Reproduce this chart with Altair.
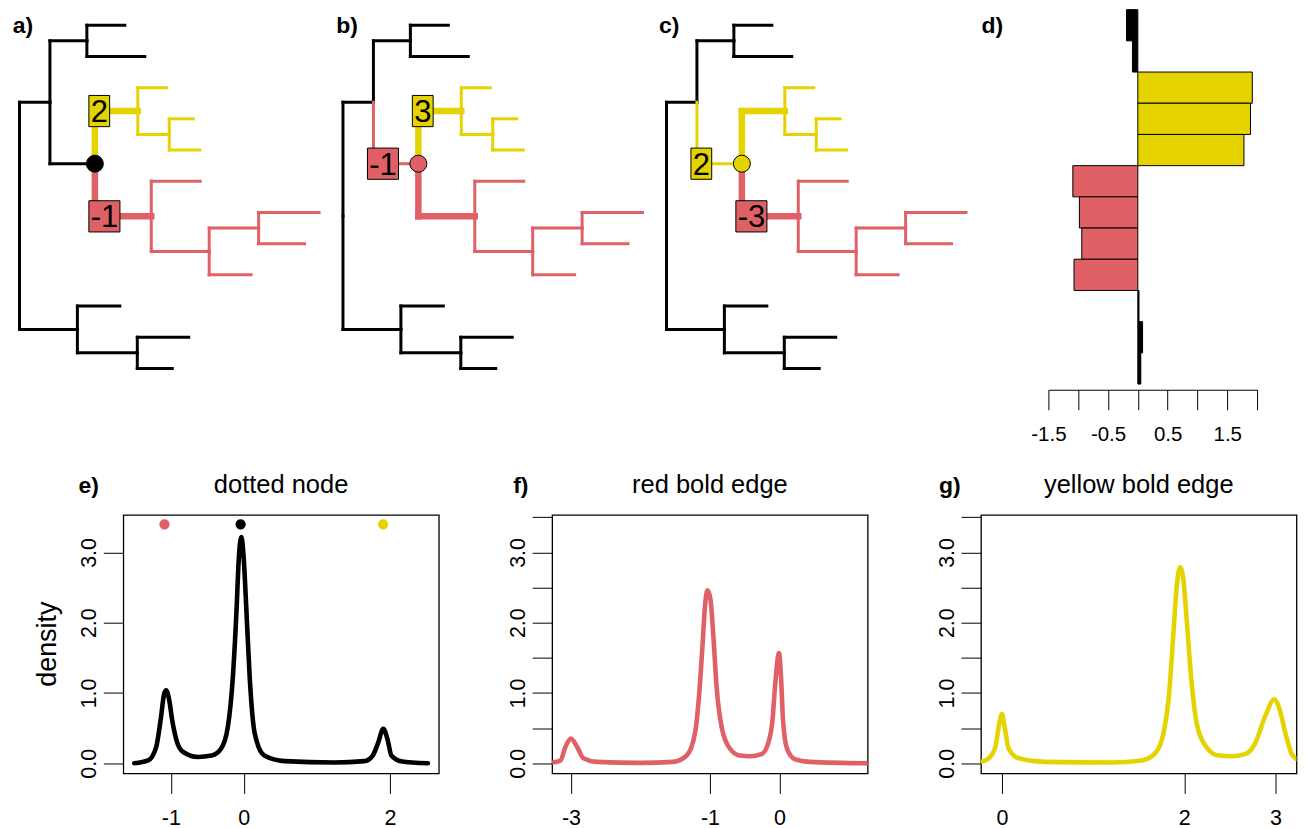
import altair as alt
import pandas as pd

FONT = "Liberation Sans"
PALETTE = {"black": "#000000", "red": "#DF6165", "yellow": "#E5D300"}

# ---------------- tree shared by panels a, b, c ----------------
node_names = ["root", "U", "N12", "T1", "T2", "D", "Y1", "T3", "Y2", "T4", "T5",
              "R1", "T6", "R2", "R3", "T7", "T8", "T9", "L1", "T10", "L2", "T11", "T12"]
node_parents = [None, "root", "U", "N12", "N12", "U", "D", "Y1", "Y1", "Y2", "Y2",
                "D", "R1", "R1", "R2", "R3", "R3", "R2", "root", "L1", "L1", "L2", "L2"]
node_depths = [0, 30.5, 67.5, 105.5, 125.5, 75.5, 118.5, 147.5, 150, 174, 180.5,
               132, 181, 190, 239.5, 300, 285.5, 232, 58, 100.5, 118, 169.5, 153]
tip_order = ["T1", "T2", "T3", "T4", "T5", "T6", "T7", "T8", "T9", "T10", "T11", "T12"]
yellow_clade = ["Y1", "T3", "Y2", "T4", "T5"]
red_clade = ["R1", "T6", "R2", "R3", "T7", "T8", "T9"]
bold_edges = ["Y1", "R1"]
focus_node = "D"

tree_tags = ["a)", "b)", "c)"]
focus_edge_colors = ["black", "red", "yellow"]
focus_node_colors = ["black", "red", "yellow"]
edge_label_nodes = [["Y1", "R1"], ["D", "Y1"], ["D", "R1"]]
edge_label_texts = [["2", "-1"], ["-1", "3"], ["2", "-3"]]
edge_label_colors = [["yellow", "red"], ["red", "yellow"], ["yellow", "red"]]

# ---------------- panel d ----------------
bar_values = [-0.19, -0.09, 1.92, 1.89, 1.78, -1.09, -0.98, -0.94, -1.07, 0.02, 0.08, 0.05]
bar_colors = ["black", "black", "yellow", "yellow", "yellow", "red", "red", "red", "red",
              "black", "black", "black"]
bar_ticks = [-1.5, -1.0, -0.5, 0.0, 0.5, 1.0, 1.5, 2.0]

# ---------------- panels e, f, g ----------------
e_x = [-1.50, -1.31, -1.20, -1.14, -1.09, -1.063, -1.02, -0.98, -0.92, -0.83, -0.63, -0.44,
       -0.31, -0.22, -0.15, -0.10, -0.07, -0.035, 0.0, 0.035, 0.08, 0.15, 0.28, 0.56, 1.24,
       1.65, 1.765, 1.835, 1.91, 1.97, 2.02, 2.15, 2.52]
e_y = [0.00, 0.04, 0.23, 0.61, 0.99, 1.04, 0.89, 0.61, 0.32, 0.16, 0.09, 0.11,
       0.21, 0.51, 1.23, 2.18, 2.89, 3.22, 2.89, 2.18, 1.23, 0.42, 0.11, 0.03, 0.01,
       0.03, 0.11, 0.28, 0.49, 0.33, 0.11, 0.03, 0.00]
e_dot_x = [-1.087, -0.044, 1.907]
e_dot_y = [3.40, 3.40, 3.40]
e_dot_colors = ["red", "black", "yellow"]

f_x = [-3.27, -3.15, -3.08, -3.00, -2.91, -2.82, -2.63, -2.0, -1.53, -1.335, -1.216, -1.154,
       -1.105, -1.068, -1.034, -0.99, -0.953, -0.904, -0.832, -0.713, -0.57, -0.426, -0.258,
       -0.163, -0.10, -0.063, -0.006, 0.023, 0.052, 0.109, 0.22, 0.435, 1.27]
f_y = [0.01, 0.04, 0.23, 0.35, 0.23, 0.07, 0.02, 0.005, 0.02, 0.11, 0.42, 0.99,
       1.70, 2.27, 2.46, 2.32, 1.85, 1.09, 0.52, 0.21, 0.11, 0.10, 0.13,
       0.28, 0.61, 1.09, 1.57, 1.23, 0.61, 0.21, 0.06, 0.02, 0.0]

g_x = [-0.23, -0.146, -0.073, -0.029, 0.0, 0.029, 0.073, 0.183, 0.475, 1.2, 1.533, 1.679,
       1.77, 1.833, 1.88, 1.916, 1.953, 1.99, 2.026, 2.074, 2.135, 2.227, 2.373, 2.518,
       2.665, 2.775, 2.884, 2.986, 3.048, 3.11, 3.175, 3.23]
g_y = [0.02, 0.07, 0.23, 0.57, 0.70, 0.52, 0.21, 0.07, 0.02, 0.01, 0.04, 0.14,
       0.42, 0.99, 1.85, 2.51, 2.79, 2.61, 2.04, 1.23, 0.57, 0.26, 0.11, 0.10,
       0.13, 0.28, 0.66, 0.91, 0.75, 0.42, 0.14, 0.06]

density_ticks = [0.0, 0.5, 1.0, 1.5, 2.0, 2.5, 3.0, 3.5]

# ---------------- layout helpers ----------------
TOP_H = 375
BOT_W = 316
BOT_H = 259
ROOT_OFF = 10.5
TREE_WIDTHS = [323.3, 323.3, 393.0]
D_WIDTH = 209

depth = dict(zip(node_names, node_depths))
parent = dict(zip(node_names, node_parents))
children = {}
for n, p in zip(node_names, node_parents):
    if p is not None:
        children.setdefault(p, []).append(n)


def node_y(n):
    if n in tip_order:
        return tip_order.index(n) + 1
    ch = children[n]
    return (node_y(ch[0]) + node_y(ch[-1])) / 2


ypos = {n: node_y(n) for n in node_names}
y_scale = alt.Scale(domain=[0.5, 12.5], reverse=True, nice=False, zero=False)


def tag_layer(tag, px, py, size=23):
    return alt.Chart(pd.DataFrame({"t": [tag]})).mark_text(
        font=FONT, fontSize=size, fontWeight="bold", align="left", baseline="middle",
        color="black").encode(x=alt.value(px), y=alt.value(py), text="t:N")


def tree_panel(k):
    w = TREE_WIDTHS[k]
    xs = alt.Scale(domain=[-ROOT_OFF, w - ROOT_OFF], nice=False, zero=False)
    rows = []
    for n in node_names[1:]:
        p = parent[n]
        if n == focus_node:
            col = focus_edge_colors[k]
        elif n in yellow_clade:
            col = "yellow"
        elif n in red_clade:
            col = "red"
        else:
            col = "black"
        sw = 6.5 if n in bold_edges else 3.0
        rows.append(dict(x=depth[p], x2=depth[n], y=ypos[n], y2=ypos[n], col=PALETTE[col], w=sw))
        rows.append(dict(x=depth[p], x2=depth[p], y=ypos[p], y2=ypos[n], col=PALETTE[col], w=sw))
    seg = pd.DataFrame(rows).sort_values("w", kind="stable")
    rules = alt.Chart(seg).mark_rule(strokeCap="square").encode(
        x=alt.X("x:Q", scale=xs, axis=None), x2="x2:Q",
        y=alt.Y("y:Q", scale=y_scale, axis=None), y2="y2:Q",
        color=alt.Color("col:N", scale=None),
        strokeWidth=alt.StrokeWidth("w:Q", scale=None))

    nd = pd.DataFrame({"x": [depth[focus_node]], "y": [ypos[focus_node]],
                       "col": [PALETTE[focus_node_colors[k]]]})
    dot = alt.Chart(nd).mark_point(filled=True, shape="circle", size=290, opacity=1,
                                   stroke="black", strokeWidth=1).encode(
        x=alt.X("x:Q", scale=xs, axis=None), y=alt.Y("y:Q", scale=y_scale, axis=None),
        fill=alt.Fill("col:N", scale=None))

    brow = []
    for n, t, c in zip(edge_label_nodes[k], edge_label_texts[k], edge_label_colors[k]):
        bx = depth[parent[n]] - 6
        bw = 10.3 * len(t) + 10.5
        brow.append(dict(x=bx, x2=bx + bw, xc=bx + bw / 2, y=ypos[n] - 0.5, y2=ypos[n] + 0.5,
                         yc=ypos[n], t=t, col=PALETTE[c]))
    bdf = pd.DataFrame(brow)
    boxes = alt.Chart(bdf).mark_rect(stroke="black", strokeWidth=1).encode(
        x=alt.X("x:Q", scale=xs, axis=None), x2="x2:Q",
        y=alt.Y("y:Q", scale=y_scale, axis=None), y2="y2:Q",
        fill=alt.Fill("col:N", scale=None))
    texts = alt.Chart(bdf).mark_text(font=FONT, fontSize=31, align="center", baseline="middle",
                                     dy=2, color="black").encode(
        x=alt.X("xc:Q", scale=xs, axis=None), y=alt.Y("yc:Q", scale=y_scale, axis=None),
        text="t:N")
    tag_x = [3.7, 3.7, 2.9][k]
    return alt.layer(rules, dot, boxes, texts, tag_layer(tree_tags[k], tag_x, 16.7)).properties(
        width=w, height=TOP_H, view=alt.ViewBackground(stroke="transparent"))


def bar_panel():
    df = pd.DataFrame({"tip": list(range(1, 13)), "v": bar_values,
                       "col": [PALETTE[c] for c in bar_colors]})
    df["y"] = df["tip"] - 0.5
    df["y2"] = df["tip"] + 0.5
    df["base"] = 0.0
    xs = alt.Scale(domain=[bar_ticks[0], bar_ticks[-1]], nice=False, zero=False)
    bars = alt.Chart(df).mark_rect(stroke="black", strokeWidth=1).encode(
        x=alt.X("base:Q", scale=xs, axis=alt.Axis(
            values=bar_ticks, orient="bottom", offset=5.7, tickSize=20, tickWidth=1,
            tickColor="black", domain=True, domainColor="black", domainWidth=1, grid=False,
            labelExpr="abs(datum.value * 2) % 2 == 1 ? datum.value + '' : ''",
            labelFont=FONT, labelFontSize=20.5, labelColor="black", labelPadding=15,
            labelFlush=False, labelOverlap=False, title=None)),
        x2="v:Q",
        y=alt.Y("y:Q", scale=y_scale, axis=None), y2="y2:Q",
        fill=alt.Fill("col:N", scale=None))
    return alt.layer(bars, tag_layer("d)", -67, 16.7)).properties(
        width=D_WIDTH, height=TOP_H, view=alt.ViewBackground(stroke="transparent"))


def density_panel(xv, yv, color, xdom, xticks, title, tag, tag_dx, dots=None, ylab=False):
    df = pd.DataFrame({"x": xv, "y": yv})
    xs = alt.Scale(domain=xdom, nice=False, zero=False)
    ys = alt.Scale(domain=[-0.145, 3.535], nice=False, zero=False)
    xaxis = alt.Axis(values=xticks, tickSize=20, tickWidth=1, tickColor="black", domain=False,
                     grid=False, labelExpr="datum.value + ''", labelFont=FONT, labelFontSize=21.5,
                     labelColor="black", labelPadding=14, labelFlush=False, labelOverlap=False,
                     title=None)
    yaxis = alt.Axis(values=density_ticks, tickSize=20, tickWidth=1, tickColor="black",
                     domain=False, grid=False,
                     labelExpr="datum.value % 1 == 0 ? format(datum.value, '.1f') : ''",
                     labelAngle=270, labelAlign="center", labelBaseline="alphabetic",
                     labelFont=FONT, labelFontSize=21.5, labelColor="black", labelPadding=7.5,
                     labelFlush=False, labelOverlap=False, title=None)
    line = alt.Chart(df).mark_line(color=PALETTE[color], strokeWidth=4.6, interpolate="monotone",
                                   clip=True, strokeCap="round", strokeJoin="round").encode(
        x=alt.X("x:Q", scale=xs, axis=xaxis), y=alt.Y("y:Q", scale=ys, axis=yaxis))
    layers = [line]
    if dots is not None:
        ddf = pd.DataFrame({"x": dots[0], "y": dots[1], "col": [PALETTE[c] for c in dots[2]]})
        layers.append(alt.Chart(ddf).mark_point(filled=True, shape="circle", size=105,
                                                opacity=1).encode(
            x=alt.X("x:Q", scale=xs), y=alt.Y("y:Q", scale=ys),
            fill=alt.Fill("col:N", scale=None)))
    layers.append(alt.Chart(pd.DataFrame({"t": [title]})).mark_text(
        font=FONT, fontSize=25.5, align="center", baseline="alphabetic", color="black").encode(
        x=alt.value(BOT_W / 2), y=alt.value(-22), text="t:N"))
    layers.append(alt.Chart(pd.DataFrame({"t": [tag]})).mark_text(
        font=FONT, fontSize=23, fontWeight="bold", align="left", baseline="alphabetic",
        color="black").encode(x=alt.value(tag_dx), y=alt.value(-22), text="t:N"))
    if ylab:
        layers.append(alt.Chart(pd.DataFrame({"t": ["density"]})).mark_text(
            font=FONT, fontSize=27, angle=270, align="center", baseline="alphabetic",
            color="black").encode(x=alt.value(-67.8), y=alt.value(BOT_H / 2), text="t:N"))
    return alt.layer(*layers).properties(
        width=BOT_W, height=BOT_H, view=alt.ViewBackground(stroke="black", strokeWidth=1.3))


pa, pb, pc = (tree_panel(k) for k in range(3))
pd_ = bar_panel()
pe = density_panel(e_x, e_y, "black", [-1.65, 2.67], [-1, 0, 2], "dotted node", "e)", -45,
                   dots=(e_dot_x, e_dot_y, e_dot_colors), ylab=True)
pf = density_panel(f_x, f_y, "red", [-3.27, 1.27], [-3, -1, 0], "red bold edge", "f)", -39)
pg = density_panel(g_x, g_y, "yellow", [-0.23, 3.23], [0, 2, 3], "yellow bold edge", "g)", -42)

# invisible spacer column; its single point sits fully inside it so that it
# never extends the drawing to the left of the origin
spacer = alt.Chart(pd.DataFrame({"v": [0]})).mark_point(opacity=0, size=1).encode(
    x=alt.value(0.5), y=alt.value(100)).properties(
    width=1, height=BOT_H, view=alt.ViewBackground(stroke="transparent"))

top = alt.hconcat(pa, pb, pc, pd_, spacing=0, bounds="flush")
bottom = alt.hconcat(spacer, pe, pf, pg, spacing=113.5, bounds="flush")
# with flush bounds the nested rows count as zero height, so the spacing is
# the offset of the second row from the top of the first.
chart = alt.vconcat(top, bottom, spacing=TOP_H + 131, bounds="flush").properties(
    padding=0, background="white").configure_view(stroke="transparent")

chart.save("out.html", embed_options={"renderer": "svg", "actions": False})
